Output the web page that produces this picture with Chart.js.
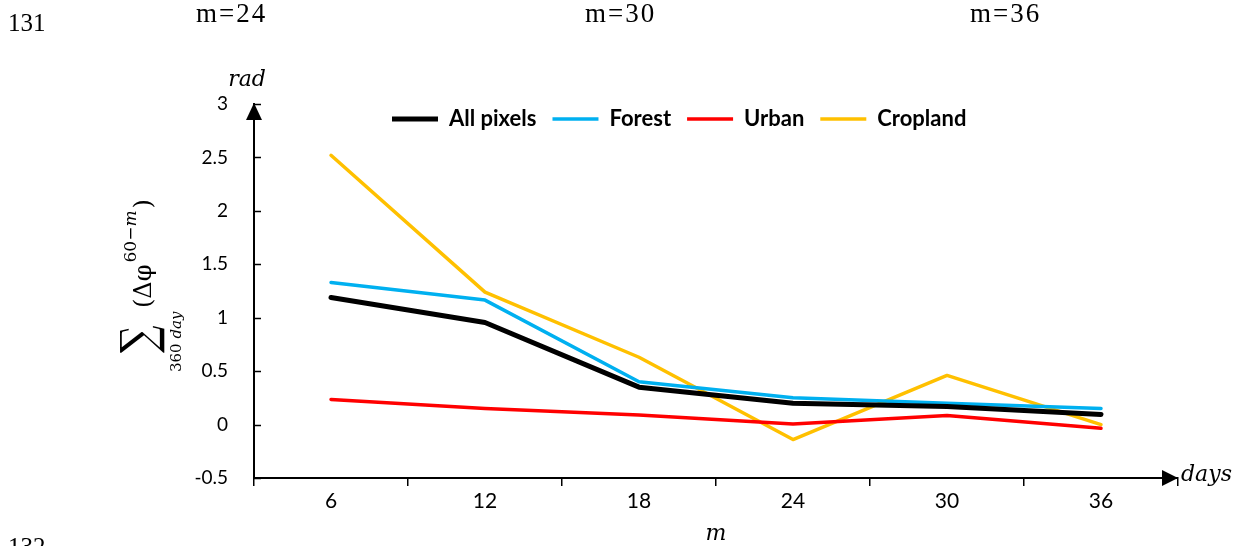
<!DOCTYPE html>
<html>
<head>
<meta charset="utf-8">
<script src="https://cdn.jsdelivr.net/npm/chart.js@4.4.1/dist/chart.umd.min.js"></script>
<style>
  html, body { margin: 0; padding: 0; background: #fff; }
  #wrap { position: relative; width: 1241px; height: 546px; overflow: hidden; }
  canvas { position: absolute; left: 0; top: 0; }
  .pg { position: absolute; font-family: "Liberation Serif", serif; color: #000; white-space: nowrap; }
  .num { font-size: 25px; line-height: 25px; }
  .hdr { font-size: 27px; line-height: 27px; letter-spacing: 2px; }
</style>
</head>
<body>
<div id="wrap">
  <canvas id="c" width="1241" height="546"></canvas>
  <div class="pg num" style="left:8px; top:10px;">131</div>
  <div class="pg hdr" style="left:196px; top:0px;">m=24</div>
  <div class="pg hdr" style="left:585px; top:0px;">m=30</div>
  <div class="pg hdr" style="left:970px; top:0px;">m=36</div>
  <div class="pg num" style="left:8px; top:534px;">132</div>
</div>
<script>
// ---- data ----
const categories = ['6', '12', '18', '24', '30', '36'];
const seriesNames = ['All pixels', 'Forest', 'Urban', 'Cropland'];
const allPixels = [1.19, 0.955, 0.35, 0.20, 0.17, 0.095];
const forest    = [1.33, 1.165, 0.40, 0.25, 0.20, 0.15];
const urban     = [0.235, 0.15, 0.09, 0.005, 0.085, -0.035];
const cropland  = [2.52, 1.24, 0.63, -0.14, 0.46, 0.0];
const yTickValues = [-0.5, 0, 0.5, 1, 1.5, 2, 2.5, 3];
const yTickLabels = ['-0.5', '0', '0.5', '1', '1.5', '2', '2.5', '3'];

// ---- layout constants ----
const LEG_FONT = 22, LEG_PAD = 16;
const LEG_H = LEG_FONT + LEG_PAD + 10;
const PLOT_TOP = 104;

function mkSet(label, data, color, width) {
  return {
    label, data,
    borderColor: color, backgroundColor: color,
    borderWidth: width, pointRadius: 0, pointHoverRadius: 0,
    pointStyle: 'line', tension: 0,
    borderCapStyle: 'round', borderJoinStyle: 'round',
    fill: false
  };
}

const decor = {
  id: 'decor',
  afterLayout(chart) {
    const lg = chart.legend;
    if (lg) {
      const h = lg.height, w = lg.width;
      lg.top = 119 - LEG_PAD - LEG_FONT / 2;
      lg.bottom = lg.top + h;
      lg.left = 392 - LEG_PAD;
      lg.right = lg.left + w;
    }
  },
  afterDraw(chart) {
    const ctx = chart.ctx;
    const ca = chart.chartArea;
    const ys = chart.scales.y;
    ctx.save();
    ctx.strokeStyle = '#000';
    ctx.fillStyle = '#000';
    // inward y tick marks
    ctx.lineWidth = 1.5;
    ys.ticks.forEach(t => {
      const py = Math.round(ys.getPixelForValue(t.value)) + 0.5;
      ctx.beginPath();
      ctx.moveTo(ca.left, py);
      ctx.lineTo(ca.left + 7, py);
      ctx.stroke();
    });
    // y arrow
    ctx.beginPath();
    ctx.moveTo(ca.left, ca.top - 1);
    ctx.lineTo(ca.left - 8, ca.top + 16);
    ctx.lineTo(ca.left + 8, ca.top + 16);
    ctx.closePath();
    ctx.fill();
    // x arrow
    ctx.beginPath();
    ctx.moveTo(ca.right, ca.bottom);
    ctx.lineTo(ca.right - 16, ca.bottom - 8);
    ctx.lineTo(ca.right - 16, ca.bottom + 8);
    ctx.closePath();
    ctx.fill();

    // axis unit labels
    ctx.font = 'italic 22px "DejaVu Serif"';
    ctx.textBaseline = 'alphabetic';
    ctx.textAlign = 'center';
    ctx.fillText('rad', ca.left - 7, ca.top - 18);
    ctx.textAlign = 'left';
    ctx.fillText('days', ca.right + 3, ca.bottom + 3);
    ctx.textAlign = 'center';
    ctx.fillText('m', (ca.left + ca.right) / 2, 540);

    // y title formula (rotated)
    ctx.translate(157, 355);
    ctx.rotate(-Math.PI / 2);
    ctx.textAlign = 'left';
    ctx.textBaseline = 'alphabetic';
    ctx.font = '40px "DejaVu Serif"';
    const m = ctx.measureText('\u2211');
    const gw = m.actualBoundingBoxLeft + m.actualBoundingBoxRight;
    const gh = m.actualBoundingBoxAscent + m.actualBoundingBoxDescent;
    ctx.save();
    ctx.translate(2, -37);
    ctx.scale(28 / gw, 45 / gh);
    ctx.fillText('\u2211', m.actualBoundingBoxLeft, m.actualBoundingBoxAscent);
    ctx.restore();
    // subscript
    ctx.font = '15px "DejaVu Serif"';
    ctx.fillText('360 ', -17, 24);
    let w = ctx.measureText('360 ').width;
    ctx.font = 'italic 15px "DejaVu Serif"';
    ctx.fillText('day', -17 + w, 24);
    // main
    ctx.font = '24px "DejaVu Serif"';
    ctx.fillText('(\u0394\u03C6', 47, -6);
    w = ctx.measureText('(\u0394\u03C6').width;
    // superscript
    const supX = 47 + w + 2;
    ctx.font = '17px "DejaVu Serif"';
    ctx.fillText('60\u2212', supX, -21);
    let w2 = ctx.measureText('60\u2212').width;
    ctx.font = 'italic 17px "DejaVu Serif"';
    ctx.fillText('m', supX + w2, -21);
    w2 += ctx.measureText('m').width;
    ctx.font = '24px "DejaVu Serif"';
    ctx.fillText(')', supX + w2 + 2, -6);
    ctx.restore();
  }
};

new Chart(document.getElementById('c'), {
  type: 'line',
  data: {
    labels: categories,
    datasets: [
      mkSet(seriesNames[0], allPixels, '#000000', 5),
      mkSet(seriesNames[1], forest, '#00B0F0', 3.5),
      mkSet(seriesNames[2], urban, '#FF0000', 3.5),
      mkSet(seriesNames[3], cropland, '#FFC000', 3.5)
    ]
  },
  options: {
    responsive: false,
    animation: false,
    events: [],
    layout: { padding: { top: PLOT_TOP - LEG_H, right: 63, left: 0, bottom: 0 } },
    plugins: {
      tooltip: { enabled: false },
      legend: {
        display: true,
        position: 'top',
        fullSize: false,
        align: 'start',
        labels: {
          usePointStyle: true,
          pointStyle: 'line',
          pointStyleWidth: 46,
          padding: LEG_PAD,
          color: '#000',
          font: { family: 'Lato', weight: 'bold', size: LEG_FONT }
        }
      }
    },
    scales: {
      x: {
        type: 'category',
        offset: true,
        grid: { offset: true, drawOnChartArea: false, drawTicks: true, tickLength: 8, color: '#000', lineWidth: 1.5 },
        border: { display: true, color: '#000', width: 2 },
        ticks: { color: '#000', font: { family: 'Lato', size: 21 }, padding: 3, maxRotation: 0 },
        afterFit(s) { s.height = 68; }
      },
      y: {
        type: 'linear',
        min: -0.5, max: 3,
        afterBuildTicks(s) { s.ticks = yTickValues.map(v => ({ value: v })); },
        grid: { drawOnChartArea: false, drawTicks: false },
        border: { display: true, color: '#000', width: 2 },
        ticks: {
          color: '#000', font: { family: 'Lato', size: 19 }, padding: 26,
          callback: (v, i) => yTickLabels[i]
        },
        afterFit(s) { s.width = 254; }
      }
    }
  },
  plugins: [decor]
});
</script>
</body>
</html>
